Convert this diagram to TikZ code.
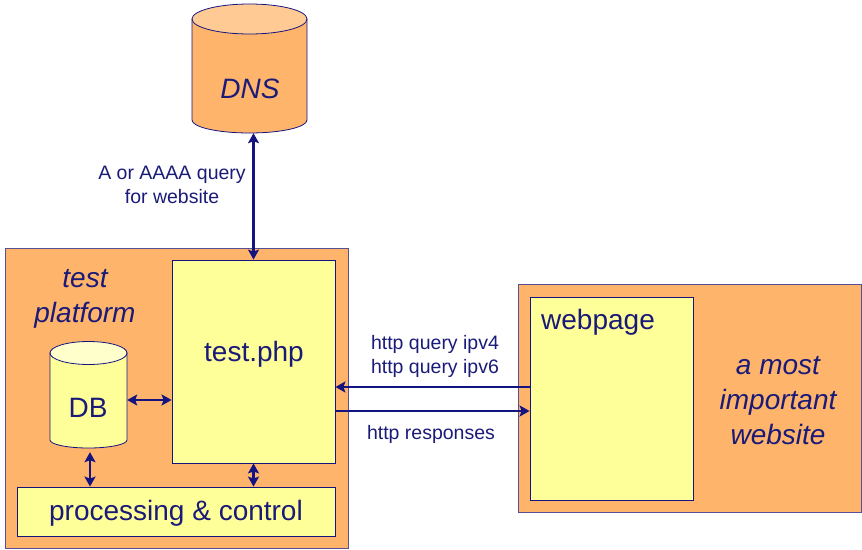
\documentclass[tikz,border=0pt]{standalone}
\usepackage{fontspec}
\setmainfont{Liberation Sans}
\usetikzlibrary{arrows.meta}
\definecolor{boxorange}{RGB}{255,180,108}
\definecolor{toporange}{RGB}{255,202,148}
\definecolor{boxyellow}{RGB}{255,255,153}
\definecolor{topyellow}{RGB}{255,255,204}
\definecolor{navy}{RGB}{20,20,128}
\definecolor{inktext}{RGB}{26,26,120}
\definecolor{frame}{RGB}{88,80,150}
\tikzset{
  obox/.style={draw=frame, line width=1pt, fill=boxorange, inner sep=0pt},
  ybox/.style={draw=navy, line width=0.8pt, fill=boxyellow, inner sep=0pt},
  ghost/.style={inner sep=0pt},
  big/.style={text=inktext, font=\fontsize{28}{35}\selectfont, align=center, inner sep=0pt},
  bigit/.style={big, font=\fontsize{28}{35}\selectfont\itshape},
  small/.style={text=inktext, font=\fontsize{19.5}{24}\selectfont, align=center, inner sep=0pt},
  link/.style={draw=navy, line width=2.9pt},
  both/.style={link, {Stealth[length=10pt,width=11pt,inset=2pt]}-{Stealth[length=10pt,width=11pt,inset=2pt]}},
  onto/.style={link, -{Stealth[length=10pt,width=11pt,inset=2pt]}},
}
\begin{document}
\begin{tikzpicture}[x=1pt,y=-1pt]
\useasboundingbox (0,0) rectangle (862,549);

% outer areas
\node[obox, minimum width=343pt, minimum height=300pt] (platform) at (176.5,398) {};
\node[obox, minimum width=343pt, minimum height=228pt] (site) at (689.5,398) {};

% DNS cylinder
\draw[draw=navy, line width=0.8pt, fill=boxorange]
  (192,19) -- (192,120) arc[start angle=180, end angle=360, x radius=57.5pt, y radius=13pt]
  -- (307,19) -- cycle;
\draw[draw=navy, line width=0.8pt, fill=toporange] (249.5,19) ellipse[x radius=57.5pt, y radius=15pt];
\node[ghost, minimum width=115pt, minimum height=114pt] (dns) at (249.5,76) {};
\node[bigit] (dnslabel) at (250,89) {DNS};

% inner boxes
\node[ybox, minimum width=163pt, minimum height=203pt] (php) at (253.5,361.5) {};
\node[ybox, minimum width=163pt, minimum height=203pt] (web) at (611.5,398.5) {};
\node[ybox, minimum width=318pt, minimum height=49pt] (proc) at (176,511.5) {};

% DB cylinder
\draw[draw=navy, line width=0.8pt, fill=boxyellow]
  (50,353) -- (50,440) arc[start angle=180, end angle=360, x radius=38.5pt, y radius=8pt]
  -- (127,353) -- cycle;
\draw[draw=navy, line width=0.8pt, fill=topyellow] (88.5,353) ellipse[x radius=38.5pt, y radius=11.5pt];
\node[ghost, minimum width=77pt, minimum height=94pt] (db) at (88.5,400) {};

% texts
\node[big] (phplabel) at (254,354) {test.php};
\node[big] (dblabel) at (88,408) {DB};
\node[big] (proclabel) at (176,513) {processing \& control};
\node[big, anchor=west] (weblabel) at (541,322) {webpage};
\node[bigit] (platlabel) at (85,299) {test\\platform};
\node[bigit] (sitelabel) at (778,401) {a most\\important\\website};
\node[small] (dnsq) at (172,185) {A or AAAA query\\for website};
\node[small] (httpq) at (435,356) {http query ipv4\\http query ipv6};
\node[small] (httpr) at (431,434) {http responses};

% connectors
\draw[both] (php.north) -- (php.north |- dns.south);
\draw[both] (db.east) -- (db.east -| php.west);
\draw[both] ([xshift=1.5pt,yshift=-5pt]db.south) -- ([xshift=1.5pt]db.south |- proc.north);
\draw[both] (php.south) -- (php.south |- proc.north);
\draw[onto] ([yshift=11.5pt]web.west) -- ([yshift=11.5pt]web.west -| php.east);
\draw[onto] ([yshift=-49.5pt]php.east) -- ([yshift=-49.5pt]php.east -| web.west);
\end{tikzpicture}
\end{document}
